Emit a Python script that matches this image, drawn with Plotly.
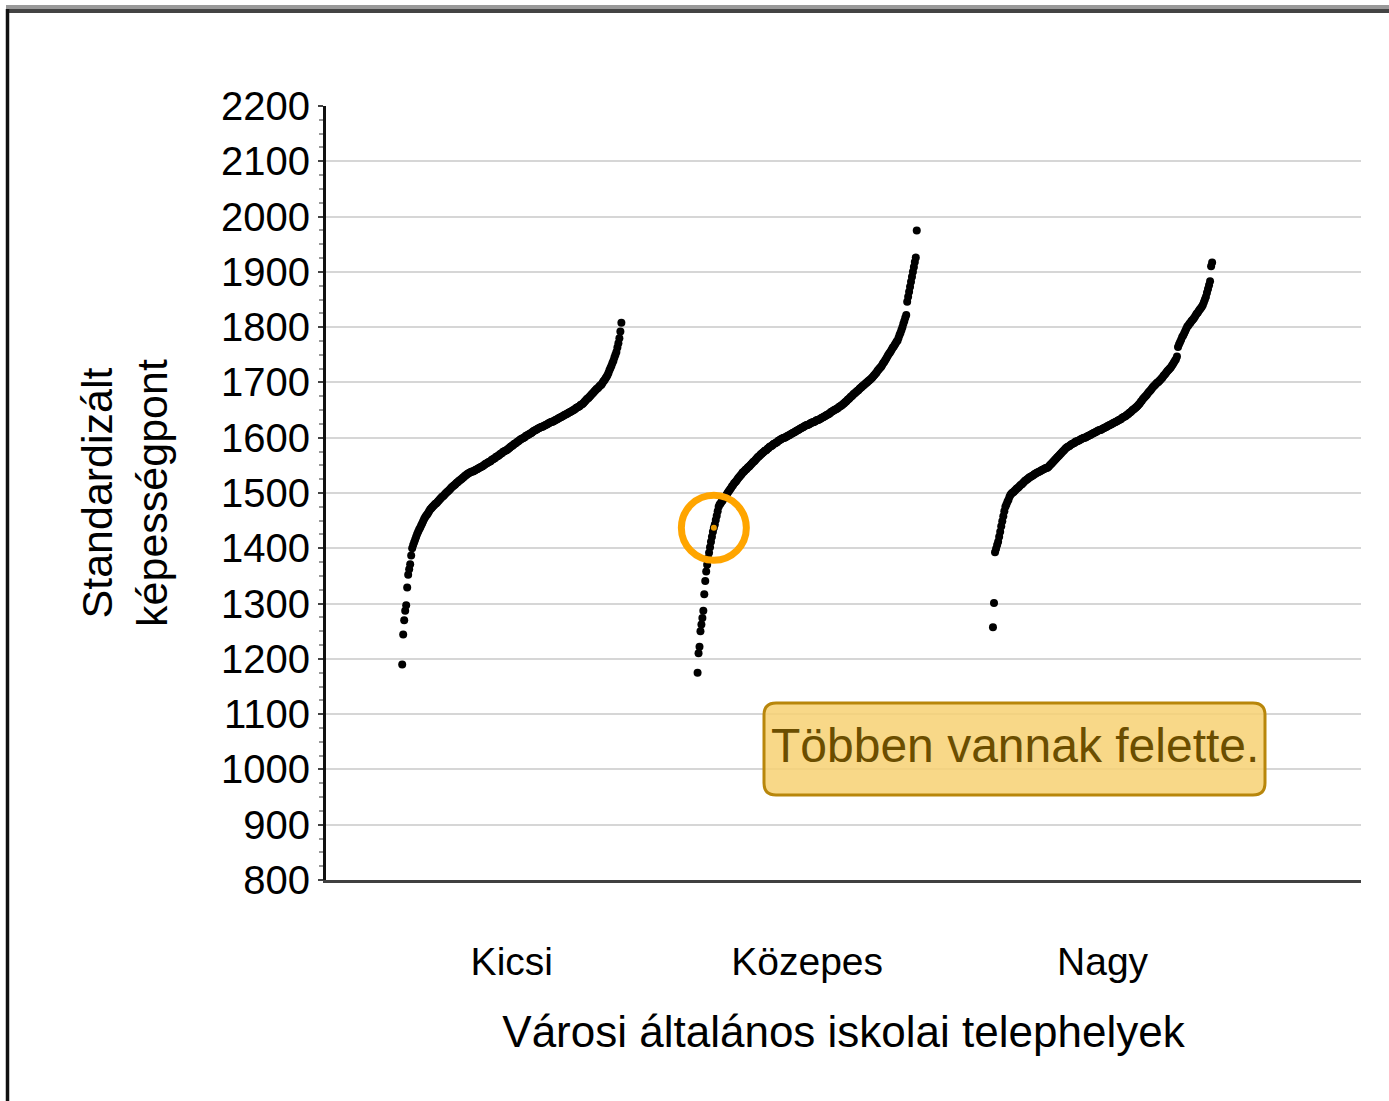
import plotly.graph_objects as go

# ---------------- data ----------------
categories = ["Kicsi", "Közepes", "Nagy"]

kicsi = [1190, 1244, 1270, 1287, 1297, 1329, 1352, 1362, 1371, 1387, 1400, 1406, 1411, 1416, 1421, 1426,
         1430, 1434, 1437, 1441, 1445, 1449,
         1453, 1456, 1459, 1461, 1464, 1467, 1470,
         1472, 1474, 1476, 1478, 1480, 1481, 1483, 1485, 1487, 1489,
         1491, 1493, 1494, 1496, 1498, 1500, 1502, 1503, 1505, 1507, 1509, 1511,
         1512, 1514, 1515, 1517, 1519, 1520, 1522, 1523, 1525, 1526, 1528, 1529, 1531, 1532, 1534,
         1535, 1536, 1537, 1538, 1539, 1539, 1540, 1541, 1542, 1543, 1544, 1545, 1546,
         1547, 1548, 1549, 1550, 1552, 1553, 1554, 1555, 1556, 1557, 1558, 1560, 1561,
         1562, 1563, 1565, 1566, 1567, 1568, 1570, 1571, 1572, 1574, 1575, 1576, 1577, 1578,
         1579, 1581, 1582, 1584, 1585, 1586, 1588, 1589, 1590, 1592, 1593, 1594, 1596,
         1597, 1598, 1599, 1600, 1601, 1603, 1604, 1605, 1606, 1607, 1608, 1609, 1611,
         1612, 1613, 1614, 1615, 1616, 1617, 1618, 1619, 1620, 1620, 1621, 1622, 1623, 1624,
         1625, 1626, 1627, 1628, 1629, 1629, 1630, 1631, 1632, 1633, 1634, 1635, 1636,
         1637, 1638, 1639, 1640, 1641, 1642, 1643, 1644, 1645, 1646, 1647, 1648, 1649,
         1650, 1651, 1653, 1654, 1655, 1656, 1657, 1659, 1660, 1661,
         1663, 1665, 1667, 1669, 1671, 1672, 1674, 1676, 1678, 1680,
         1682, 1684, 1686, 1688, 1689, 1691, 1693, 1695, 1696,
         1699, 1702, 1704, 1707, 1710, 1713,
         1717, 1722, 1726, 1730, 1735,
         1739, 1745, 1750, 1755,
         1763, 1771, 1780,
         1792, 1808]

kozepes = [1175, 1210, 1222, 1250, 1262, 1274, 1287, 1317, 1341, 1358, 1370, 1382, 1392,
           1402, 1412, 1421, 1430, 1437, 1443, 1451, 1459, 1467, 1475,
           1479, 1481, 1484, 1486, 1489, 1491, 1494, 1496, 1499, 1502,
           1504, 1507, 1509, 1512, 1514, 1517, 1519,
           1521, 1523, 1526, 1528, 1530, 1532, 1534, 1537,
           1538, 1540, 1542, 1543, 1545, 1547, 1548, 1550, 1552,
           1554, 1556, 1557, 1559, 1561, 1563, 1565, 1566, 1568, 1570,
           1571, 1573, 1574, 1576, 1577, 1578, 1580, 1581, 1583, 1584,
           1585, 1586, 1588, 1589, 1590, 1591, 1592, 1594, 1595, 1596,
           1597, 1598, 1599, 1600, 1600, 1601, 1602, 1603, 1604, 1605, 1606, 1607, 1608,
           1609, 1610, 1611, 1612, 1613, 1614, 1615, 1616, 1617, 1618, 1619, 1620, 1621,
           1622, 1623, 1623, 1624, 1625, 1626, 1627, 1628, 1628, 1629, 1630, 1631, 1632, 1632,
           1633, 1634, 1635, 1636, 1637, 1638, 1639, 1640, 1641, 1642, 1643, 1644, 1646,
           1647, 1648, 1649, 1650, 1651, 1652, 1653, 1654, 1656, 1657, 1658, 1659, 1661,
           1662, 1664, 1665, 1667, 1669, 1670, 1672, 1674, 1675, 1677,
           1679, 1680, 1682, 1683, 1685, 1686, 1688, 1690, 1691, 1693,
           1694, 1696, 1697, 1699, 1700, 1702, 1703, 1705, 1706, 1708,
           1710, 1712, 1714, 1716, 1718, 1721, 1723, 1725, 1727, 1729,
           1732, 1735, 1737, 1740, 1743, 1746, 1749, 1752, 1754, 1757,
           1760, 1763, 1765, 1768, 1771, 1774, 1776,
           1781, 1786, 1790, 1795, 1800,
           1806, 1811, 1817, 1822,
           1846, 1855, 1864, 1873, 1882, 1891, 1900, 1909, 1918, 1926,
           1975]

nagy = [1257, 1301, 1393, 1399, 1406, 1412, 1421, 1430, 1440, 1449, 1458, 1467, 1475, 1479, 1484, 1488, 1493, 1497,
        1499, 1501, 1502, 1504, 1506, 1508, 1509, 1511,
        1513, 1515, 1516, 1518, 1520, 1522, 1523, 1525,
        1526, 1528, 1529, 1530, 1531, 1532, 1534, 1535, 1536, 1537,
        1538, 1539, 1540, 1541, 1542, 1543, 1544, 1545, 1545, 1546,
        1548, 1550, 1552, 1554, 1556, 1558, 1560, 1562, 1564,
        1566, 1568, 1570, 1572, 1574, 1576, 1578, 1580,
        1582, 1583, 1584, 1585, 1587, 1588, 1589, 1590, 1591, 1593,
        1593, 1594, 1595, 1596, 1597, 1598, 1599, 1600, 1600, 1601, 1602, 1603, 1604,
        1605, 1606, 1607, 1608, 1609, 1610, 1611, 1612, 1613, 1614, 1614, 1615, 1616, 1617,
        1618, 1619, 1620, 1621, 1622, 1623, 1624, 1625, 1626, 1627, 1628, 1629, 1630,
        1631, 1632, 1633, 1634, 1636, 1637, 1638, 1639, 1640, 1642,
        1643, 1645, 1646, 1648, 1650, 1651, 1653, 1654, 1656, 1658,
        1660, 1662, 1665, 1667, 1670, 1672, 1674,
        1676, 1678, 1681, 1683, 1685, 1687, 1690, 1692,
        1694, 1696, 1698, 1700, 1701, 1703, 1705, 1707,
        1709, 1712, 1714, 1716, 1719, 1721, 1723, 1725, 1727,
        1730, 1733, 1736, 1739, 1742, 1747,
        1764, 1769, 1773, 1777,
        1782, 1785, 1789, 1793, 1797, 1801,
        1803, 1806, 1808, 1811, 1813, 1815, 1818, 1821,
        1824, 1826, 1829, 1832, 1834, 1837, 1840,
        1845, 1850, 1855, 1862, 1869, 1876, 1883,
        1910, 1917]

groups = [kicsi, kozepes, nagy]
highlight_group = 1          # Közepes
highlight_value = 1437

y_ticks = list(range(800, 2201, 100))
y_title = "Standardizált<br>képességpont"
x_title = "Városi általános iskolai telephelyek"
note_text = "Többen vannak felette."

# ---------------- layout geometry ----------------
FONT = "Liberation Sans, Arial, sans-serif"
W, H = 1389, 1101
ML, MR, MT, MB = 326, 28, 106, 221
plot_w = W - ML - MR
plot_h = H - MT - MB
x_range = [0.371, 3.875]
y_range = [800, 2200]
px_per_x = plot_w / (x_range[1] - x_range[0])
px_per_y = plot_h / (y_range[1] - y_range[0])
half_width = 0.371


def rank_x(center, n):
    if n == 1:
        return [center]
    return [center - half_width + 2 * half_width * i / (n - 1) for i in range(n)]


fig = go.Figure()
for gi, vals in enumerate(groups):
    xs = rank_x(gi + 1, len(vals))
    fig.add_trace(go.Scatter(
        x=xs, y=vals, mode="markers",
        marker=dict(color="black", size=8, line=dict(width=0)),
        showlegend=False, hoverinfo="skip"))

# highlighted point (from data)
hv = groups[highlight_group]
hi = hv.index(highlight_value)
hx = rank_x(highlight_group + 1, len(hv))[hi]
hy = hv[hi]
fig.add_trace(go.Scatter(x=[hx], y=[hy], mode="markers",
                         marker=dict(color="#E89A00", size=6),
                         showlegend=False, hoverinfo="skip"))

shapes = []
# orange circle around highlighted point
r_px = 32.5
shapes.append(dict(type="circle", xref="x", yref="y",
                   x0=hx - r_px / px_per_x, x1=hx + r_px / px_per_x,
                   y0=hy - r_px / px_per_y, y1=hy + r_px / px_per_y,
                   line=dict(color="#FFA500", width=7), layer="above"))


def px2data_x(px):
    return x_range[0] + (px - ML) / px_per_x


def px2data_y(py):
    return y_range[0] + (H - MB - py) / px_per_y


# rounded callout box
bx0, bx1 = px2data_x(764), px2data_x(1265)
by1, by0 = px2data_y(703), px2data_y(795)
rx, ry = 12 / px_per_x, 12 / px_per_y
path = (f"M {bx0+rx},{by0} L {bx1-rx},{by0} Q {bx1},{by0} {bx1},{by0+ry} "
        f"L {bx1},{by1-ry} Q {bx1},{by1} {bx1-rx},{by1} L {bx0+rx},{by1} "
        f"Q {bx0},{by1} {bx0},{by1-ry} L {bx0},{by0+ry} Q {bx0},{by0} {bx0+rx},{by0} Z")
shapes.append(dict(type="path", xref="x", yref="y", path=path,
                   fillcolor="rgba(247,209,115,0.85)",
                   line=dict(color="#B8860B", width=3), layer="above"))


# outer frame lines (top and left)
def px2paper_x(px):
    return (px - ML) / plot_w


def px2paper_y(py):
    return (H - MB - py) / plot_h


shapes.append(dict(type="line", xref="paper", yref="paper",
                   x0=px2paper_x(6), x1=px2paper_x(W), y0=px2paper_y(7), y1=px2paper_y(7),
                   line=dict(color="#999999", width=4)))
shapes.append(dict(type="line", xref="paper", yref="paper",
                   x0=px2paper_x(6), x1=px2paper_x(W), y0=px2paper_y(11), y1=px2paper_y(11),
                   line=dict(color="#444444", width=4)))
shapes.append(dict(type="line", xref="paper", yref="paper",
                   x0=px2paper_x(7.5), x1=px2paper_x(7.5), y0=px2paper_y(9), y1=px2paper_y(H),
                   line=dict(color="#111111", width=3.5)))

annotations = [dict(x=(bx0 + bx1) / 2, y=px2data_y(745), xref="x", yref="y",
                    text=note_text, showarrow=False,
                    font=dict(family=FONT, size=48, color="#6B4E00"),
                    xanchor="center", yanchor="middle")]

fig.update_layout(
    width=W, height=H,
    margin=dict(l=ML, r=MR, t=MT, b=MB, pad=0),
    paper_bgcolor="white", plot_bgcolor="white",
    font=dict(family=FONT, color="black"),
    shapes=shapes, annotations=annotations,
    xaxis=dict(range=x_range, tickmode="array", tickvals=[1, 2, 3], ticktext=categories,
               showgrid=False, zeroline=False, showline=True, linecolor="#404040", linewidth=3,
               ticks="", tickfont=dict(family=FONT, size=39, color="black"),
               ticklabelstandoff=45,
               title=dict(text=x_title, font=dict(family=FONT, size=44, color="black"), standoff=35)),
    yaxis=dict(range=y_range, tickmode="array", tickvals=y_ticks,
               showgrid=True, gridcolor="#d6d6d6", gridwidth=2, zeroline=False,
               showline=True, linecolor="#111111", linewidth=3,
               ticks="outside", ticklen=5, tickcolor="#444444", tickwidth=2,
               minor=dict(dtick=25, ticks="outside", ticklen=4, tickcolor="#999999", tickwidth=2, showgrid=False),
               tickfont=dict(family=FONT, size=40, color="black"),
               ticklabelstandoff=0,
               title=dict(text=y_title, font=dict(family=FONT, size=43, color="black"), standoff=40)),
)

fig.write_html("out.html",
               config={"displayModeBar": False},
               post_script="document.body.style.margin='0px';document.body.style.overflow='hidden';")
